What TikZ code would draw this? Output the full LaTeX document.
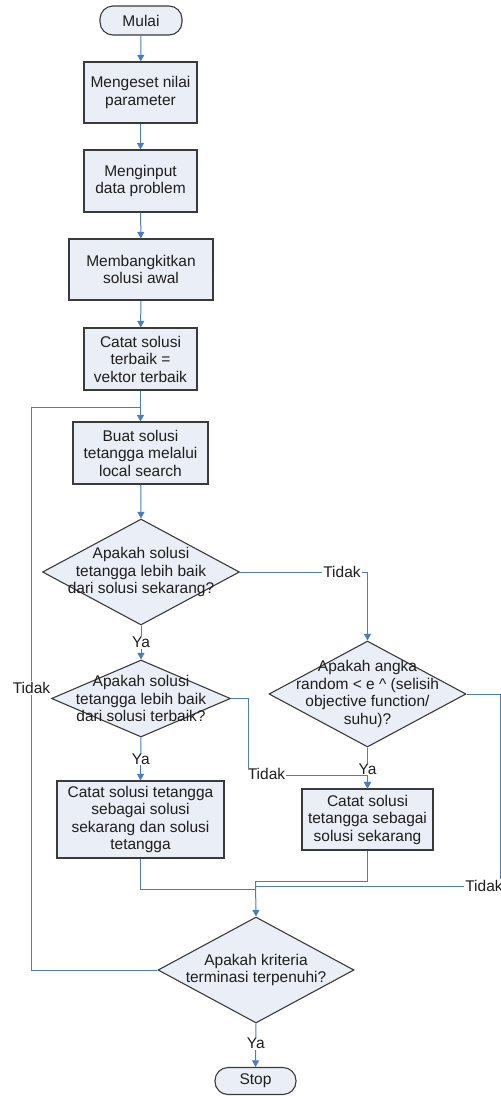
\documentclass[tikz,border=0pt]{standalone}
\usepackage{fontspec}
\setmainfont{Liberation Sans}
\usetikzlibrary{shapes.geometric,arrows.meta}
\definecolor{boxfill}{HTML}{E9EEF7}
\definecolor{boxline}{HTML}{3A3A3A}
\definecolor{flow}{HTML}{4A7EBB}
\definecolor{txt}{HTML}{1E1E1E}
\tikzset{
  base/.style={draw=boxline, line width=1.1pt, fill=boxfill, text=txt, align=center, inner sep=0pt,
    font=\fontsize{15.5}{17.5}\selectfont},
  procbox/.style={base, rectangle},
  termbox/.style={base, rectangle, rounded corners=13pt},
  decbox/.style={base, diamond},
  dtext/.style={align=center, text=txt, inner sep=0pt, font=\fontsize{15.5}{17.5}\selectfont},
  lbl/.style={fill=white, text=txt, inner sep=1pt, font=\fontsize{15.5}{17.5}\selectfont},
  flowline/.style={draw=flow, line width=1pt},
  arr/.style={flowline, -{Triangle[width=7pt,length=6.5pt]}},
}
\begin{document}
\begin{tikzpicture}[x=1pt,y=-1pt]
\useasboundingbox (0,0) rectangle (501,1096);
% nodes
\node[termbox, minimum width=82pt, minimum height=29pt] (start) at (141,20.5) {Mulai};
\node[procbox, minimum width=113pt, minimum height=61pt] (b1) at (140.5,92.5) {Mengeset nilai\\parameter};
\node[procbox, minimum width=113pt, minimum height=62pt] (b2) at (140.5,181) {Menginput\\data problem};
\node[procbox, minimum width=144pt, minimum height=61pt] (b3) at (141,269.5) {Membangkitkan\\solusi awal};
\node[procbox, minimum width=113pt, minimum height=62pt] (b4) at (140.5,359) {Catat solusi\\terbaik =\\vektor terbaik};
\node[procbox, minimum width=135pt, minimum height=62pt] (b5) at (140.5,453) {Buat solusi\\tetangga melalui\\local search};

\node[decbox, minimum width=197pt, minimum height=106pt] (d1) at (141,572) {};
\node[dtext] (t1) at (d1.center) {Apakah solusi\\tetangga lebih baik\\dari solusi sekarang?};

\node[decbox, minimum width=179pt, minimum height=77pt] (d2) at (141,698.5) {};
\node[dtext] (t2) at (d2.center) {Apakah solusi\\tetangga lebih baik\\dari solusi terbaik?};

\node[decbox, minimum width=197pt, minimum height=106pt] (d3) at (367.5,694) {};
\node[dtext] (t3) at (d3.center) {Apakah angka\\random < e \^{} (selisih\\objective function/\\suhu)?};

\node[procbox, minimum width=167pt, minimum height=77pt] (b6) at (140.5,819.5) {Catat solusi tetangga\\sebagai solusi\\sekarang dan solusi\\tetangga};
\node[procbox, minimum width=131pt, minimum height=61pt] (b7) at (367.5,819.5) {Catat solusi\\tetangga sebagai\\solusi sekarang};

\node[decbox, minimum width=196pt, minimum height=106pt] (d4) at (256,970) {};
\node[dtext] (t4) at (d4.center) {Apakah kriteria\\terminasi terpenuhi?};

\node[termbox, minimum width=81pt, minimum height=27pt] (stop) at (255.5,1081) {Stop};

% junction coordinates
\coordinate (loopj) at (140.5,407);
\coordinate (d1r) at (367.5,572);
\coordinate (d2c1) at (248,698.5);
\coordinate (d2c2) at (248,775);
\coordinate (d2c3) at (367.5,775);
\coordinate (d3c1) at (500,694);
\coordinate (d3c2) at (500,886);
\coordinate (d3c3) at (255.5,886);
\coordinate (b6c1) at (140.5,889);
\coordinate (b6c2) at (255.5,889);
\coordinate (b7c1) at (367.5,881);
\coordinate (merge) at (255.5,881);
\coordinate (d4c1) at (31,970);
\coordinate (d4c2) at (31,407);

% connectors
\draw[arr] (start) -- (b1);
\draw[arr] (b1) -- (b2);
\draw[arr] (b2) -- (b3);
\draw[arr] (b3) -- (b4);
\draw[arr] (b4) -- (b5);
\draw[arr] (b5) -- (d1.north);
\draw[arr] (d1.south) -- (d2.north) node[lbl, pos=0.5] (ya1) {Ya};
\draw[arr] (d1.east) -- (d1r) -- (d3.north);
\node[lbl] (tid1) at (342,572) {Tidak};
\draw[arr] (d2.south) -- (b6.north) node[lbl, pos=0.5] (ya2) {Ya};
\draw[arr] (d2.east) -- (d2c1) -- (d2c2) -- (d2c3) -- (b7.north);
\node[lbl, inner sep=0.5pt] (tid2) at (266.5,774) {Tidak};
\draw[arr] (d3.south) -- (b7.north);
\node[lbl] (ya3) at (367.5,769) {Ya};
\draw[flowline] (d3.east) -- (d3c1) -- (d3c2) -- (d3c3);
\node[lbl] (tid3) at (484,886) {Tidak};
\draw[flowline] (b6.south) -- (b6c1) -- (b6c2);
\draw[flowline] (b7.south) -- (b7c1) -- (merge);
\draw[arr] (merge) -- (d4.north);
\draw[flowline] (d4.west) -- (d4c1) -- (d4c2) -- (loopj);
\node[lbl] (tid4) at (31.5,688) {Tidak};
\draw[arr] (d4.south) -- (stop.north) node[lbl, pos=0.45] (ya4) {Ya};
\end{tikzpicture}
\end{document}
